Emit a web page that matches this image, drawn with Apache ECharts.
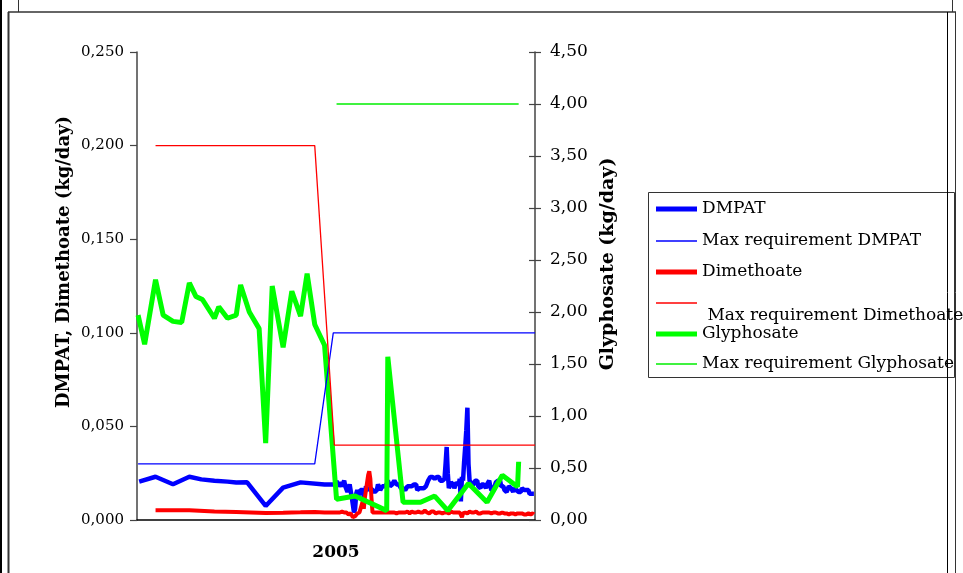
<!DOCTYPE html>
<html><head><meta charset="utf-8">
<script src="https://cdn.jsdelivr.net/npm/echarts@6/dist/echarts.min.js"></script>
<style>html,body{margin:0;padding:0;background:#fff}#c{width:963px;height:573px}</style>
</head><body><div id="c"></div>
<script>
// ---- data (x = day of year 2005) ----
const leftTickLabels = ['0,000','0,050','0,100','0,150','0,200','0,250'];
const rightTickLabels = ['0,00','0,50','1,00','1,50','2,00','2,50','3,00','3,50','4,00','4,50'];

const dmpatSparseDays = [2,17,33,48,59,71,83,91,101,118,134,150,172];
const dmpatSparseValues = [0.0205,0.0231,0.0191,0.0231,0.0217,0.0210,0.0205,0.0200,0.0201,0.0075,0.0173,0.0201,0.0190];
const dailyStartDay = 182;
const dmpatDaily = [
0.019,0.021,0.018,0.017,0.020, 0.020,0.018,0.019,0.021,0.018,
0.017,0.015,0.016,0.019,0.018, 0.012,0.008,0.004,0.006,0.014,
0.016,0.013,0.014,0.016,0.015, 0.016,0.012,0.011,0.018,0.017,
0.016,0.015,0.017,0.018,0.016, 0.017,0.015,0.014,0.016,0.019,
0.019,0.016,0.017,0.018,0.017, 0.018,0.017,0.019,0.021,0.020,
0.018,0.017,0.019,0.020,0.021, 0.021,0.019,0.020,0.019,0.018,
0.017,0.018,0.017,0.018,0.016, 0.017,0.018,0.019,0.018,0.017,
0.018,0.017,0.019,0.018,0.019, 0.016,0.015,0.017,0.018,0.017,
0.018,0.017,0.016,0.018,0.019, 0.021,0.022,0.023,0.022,0.023,
0.024,0.022,0.021,0.023,0.022, 0.023,0.021,0.020,0.021,0.020,
0.022,0.030,0.039,0.025,0.017, 0.018,0.020,0.021,0.019,0.017,
0.018,0.020,0.021,0.019,0.022, 0.010,0.023,0.021,0.031,0.039,
0.048,0.060,0.030,0.021,0.020, 0.019,0.020,0.019,0.021,0.020,
0.021,0.018,0.019,0.017,0.019, 0.020,0.019,0.018,0.017,0.019,
0.020,0.021,0.018,0.016,0.017, 0.016,0.018,0.020,0.019,0.021,
0.022,0.021,0.018,0.017,0.018, 0.016,0.017,0.015,0.016,0.018,
0.019,0.017,0.016,0.015,0.017, 0.018,0.016,0.017,0.015,0.016,
0.015,0.017,0.016,0.016,0.015, 0.016,0.015,0.016,0.014,0.015,
0.014,0.015,0.014
];

const dimSparseDays = [17,33,48,71,91,118,134,150,163,172];
const dimSparseValues = [0.0052,0.0052,0.0052,0.0045,0.0043,0.0038,0.0039,0.0041,0.0043,0.0040];
const dimDaily = [
0.0040,0.0045,0.0040,0.0035,0.0040, 0.0040,0.0045,0.0040,0.0040,0.0035,
0.0040,0.0035,0.0030,0.0040,0.0035, 0.0030,0.0015,0.0005,0.0020,0.0030,
0.0035,0.0030,0.0040,0.0050,0.0080, 0.0100,0.0060,0.0120,0.0160,0.0200,
0.0240,0.0260,0.0220,0.0120,0.0040, 0.0030,0.0040,0.0035,0.0040,0.0035,
0.0040,0.0035,0.0040,0.0045,0.0040, 0.0035,0.0040,0.0045,0.0040,0.0035,
0.0040,0.0035,0.0040,0.0045,0.0040, 0.0040,0.0035,0.0040,0.0040,0.0045,
0.0040,0.0035,0.0040,0.0045,0.0040, 0.0040,0.0045,0.0040,0.0035,0.0040,
0.0045,0.0040,0.0040,0.0035,0.0040, 0.0040,0.0045,0.0040,0.0040,0.0035,
0.0040,0.0045,0.0050,0.0045,0.0040, 0.0040,0.0035,0.0040,0.0045,0.0040,
0.0045,0.0040,0.0035,0.0040,0.0040, 0.0045,0.0040,0.0040,0.0035,0.0040,
0.0040,0.0045,0.0040,0.0040,0.0035, 0.0040,0.0045,0.0040,0.0040,0.0045,
0.0040,0.0035,0.0040,0.0045,0.0040, 0.0030,0.0015,0.0035,0.0045,0.0040,
0.0040,0.0035,0.0040,0.0045,0.0040, 0.0040,0.0035,0.0040,0.0040,0.0045,
0.0040,0.0035,0.0040,0.0035,0.0040, 0.0040,0.0045,0.0040,0.0035,0.0040,
0.0035,0.0040,0.0040,0.0035,0.0040, 0.0040,0.0035,0.0040,0.0035,0.0035,
0.0040,0.0035,0.0035,0.0040,0.0035, 0.0035,0.0040,0.0035,0.0035,0.0030,
0.0035,0.0035,0.0030,0.0035,0.0035, 0.0030,0.0035,0.0035,0.0030,0.0035,
0.0030,0.0035,0.0030,0.0030,0.0035, 0.0030,0.0030,0.0035,0.0030,0.0030,
0.0030,0.0035,0.0030
];

const glyDays = [1,7,17,24,33,41,48,54,60,71,75,83,91,95,103,112,118,124,134,142,150,156,163,172,183,200,229,230,244,260,273,285,304,321,335,349,350];
const glyValues = [1.97,1.69,2.31,1.97,1.91,1.90,2.28,2.15,2.12,1.94,2.05,1.94,1.97,2.26,2.00,1.84,0.74,2.25,1.66,2.20,1.96,2.37,1.88,1.68,0.20,0.23,0.09,1.57,0.17,0.17,0.23,0.09,0.35,0.17,0.43,0.32,0.56];

const maxDmpatDays = [1,163,180,365];
const maxDmpatValues = [0.03,0.03,0.10,0.10];
const maxDimDays = [17,163,181,365];
const maxDimValues = [0.20,0.20,0.04,0.04];
const maxGlyDays = [183,350];
const maxGlyValues = [4.00,4.00];

const legendNames = ['DMPAT','Max requirement DMPAT','Dimethoate','Max requirement Dimethoate','Glyphosate','Max requirement Glyphosate'];

// ---- build ----
function pairs(days, vals){ return days.map((d,i)=>[d, vals[i]]); }
function withDaily(days, vals, daily){
  const p = pairs(days, vals);
  daily.forEach((v,i)=>p.push([dailyStartDay+i, v]));
  return p;
}
const FONT = 'DejaVu Serif';
const AX = '#444';
const chart = echarts.init(document.getElementById('c'), null, {renderer:'canvas'});

const legendText = {fontFamily:FONT, fontSize:17, color:'#000', lineHeight:20};
// one legend per entry: [name, icon centre y, icon thickness, two-line]
const legendLayout = [
  [legendNames[0], 209, 5, false],
  [legendNames[1], 241, 1.5, false],
  [legendNames[2], 272, 5, false],
  [legendNames[3], 303, 1.5, true],
  [legendNames[4], 334, 5, false],
  [legendNames[5], 364, 1.5, false]
];
const legends = legendLayout.map(([name, cy, h, two]) => {
  const l = {orient:'vertical', left:656, itemWidth:41, itemHeight:h, padding:0, selectedMode:false,
    icon:'rect', data:[name], textStyle:Object.assign({}, legendText)};
  if (two) {
    l.formatter = (n)=>'\n '+n;
    l.textStyle.lineHeight = 26;
    l.top = cy - 26;
  } else {
    l.top = cy - 10;
  }
  return l;
});

chart.setOption({
  animation:false,
  backgroundColor:'#fff',
  grid:{left:137, right:428, top:52, bottom:53, containLabel:false},
  xAxis:{type:'value', min:0, max:365,
    name:'2005', nameLocation:'middle', nameGap:24,
    nameTextStyle:{fontFamily:FONT, fontWeight:'bold', fontSize:17, color:'#000'},
    axisLine:{show:true, onZero:false, lineStyle:{color:'#000', width:1.5}},
    axisTick:{show:false}, axisLabel:{show:false}, splitLine:{show:false}},
  yAxis:[
    {type:'value', position:'left', min:0, max:0.25, interval:0.05,
      name:'DMPAT, Dimethoate (kg/day)', nameLocation:'middle', nameGap:64,
      nameTextStyle:{fontFamily:FONT, fontWeight:'bold', fontSize:18, color:'#000', padding:[0,0,0,48]},
      axisLine:{show:true, lineStyle:{color:AX, width:1.5}},
      axisTick:{show:true, length:7, lineStyle:{color:AX, width:1.2}},
      axisLabel:{margin:13, fontFamily:FONT, fontSize:15, color:'#000',
        formatter:(v)=>leftTickLabels[Math.round(v/0.05)]},
      splitLine:{show:false}},
    {type:'value', position:'right', min:0, max:4.5, interval:0.5,
      name:'Glyphosate (kg/day)', nameLocation:'middle', nameGap:64,
      nameTextStyle:{fontFamily:FONT, fontWeight:'bold', fontSize:19, color:'#000', padding:[0,0,0,44]},
      axisLine:{show:true, lineStyle:{color:AX, width:1.5}},
      axisTick:{show:true, length:6, lineStyle:{color:AX, width:1.2}},
      axisLabel:{margin:15, fontFamily:FONT, fontSize:17, color:'#000',
        formatter:(v)=>rightTickLabels[Math.round(v/0.5)]},
      splitLine:{show:false}},
    {type:'value', position:'right', min:0, max:4.5, interval:0.5,
      axisLine:{show:false},
      axisTick:{show:true, inside:true, length:6, lineStyle:{color:AX, width:1.2}},
      axisLabel:{show:false}, splitLine:{show:false}}
  ],
  legend:legends,
  graphic:[
    {type:'rect', silent:true, shape:{x:648.5, y:192.5, width:306, height:185}, style:{fill:null, stroke:'#333', lineWidth:1}},
    {type:'line', silent:true, shape:{x1:1, y1:0, x2:1, y2:573}, style:{stroke:'#000', lineWidth:2}},
    {type:'line', silent:true, shape:{x1:18.5, y1:0, x2:18.5, y2:12}, style:{stroke:'#333', lineWidth:1}},
    {type:'line', silent:true, shape:{x1:8, y1:12, x2:956, y2:12}, style:{stroke:'#333', lineWidth:1.5}},
    {type:'line', silent:true, shape:{x1:8.5, y1:12, x2:8.5, y2:573}, style:{stroke:'#333', lineWidth:2}},
    {type:'line', silent:true, shape:{x1:952.5, y1:0, x2:952.5, y2:12}, style:{stroke:'#333', lineWidth:1}},
    {type:'line', silent:true, shape:{x1:947.5, y1:12, x2:947.5, y2:573}, style:{stroke:'#000', lineWidth:1}},
    {type:'line', silent:true, shape:{x1:955.5, y1:12, x2:955.5, y2:573}, style:{stroke:'#333', lineWidth:1}}
  ],
  series:[
    {name:'DMPAT', type:'line', yAxisIndex:0, symbol:'none', z:2,
      data:withDaily(dmpatSparseDays, dmpatSparseValues, dmpatDaily),
      lineStyle:{color:'#0000FF', width:4.5}, itemStyle:{color:'#0000FF'}},
    {name:'Max requirement DMPAT', type:'line', yAxisIndex:0, symbol:'none', z:4,
      data:pairs(maxDmpatDays, maxDmpatValues),
      lineStyle:{color:'#0000FF', width:1.3}, itemStyle:{color:'#0000FF'}},
    {name:'Dimethoate', type:'line', yAxisIndex:0, symbol:'none', z:2,
      data:withDaily(dimSparseDays, dimSparseValues, dimDaily),
      lineStyle:{color:'#FF0000', width:4}, itemStyle:{color:'#FF0000'}},
    {name:'Max requirement Dimethoate', type:'line', yAxisIndex:0, symbol:'none', z:4,
      data:pairs(maxDimDays, maxDimValues),
      lineStyle:{color:'#FF0000', width:1.3}, itemStyle:{color:'#FF0000'}},
    {name:'Glyphosate', type:'line', yAxisIndex:1, symbol:'none', z:3,
      data:pairs(glyDays, glyValues),
      lineStyle:{color:'#00FF00', width:5}, itemStyle:{color:'#00FF00'}},
    {name:'Max requirement Glyphosate', type:'line', yAxisIndex:1, symbol:'none', z:4,
      data:pairs(maxGlyDays, maxGlyValues),
      lineStyle:{color:'#00EE00', width:1.6}, itemStyle:{color:'#00EE00'}}
  ]
});
</script></body></html>
